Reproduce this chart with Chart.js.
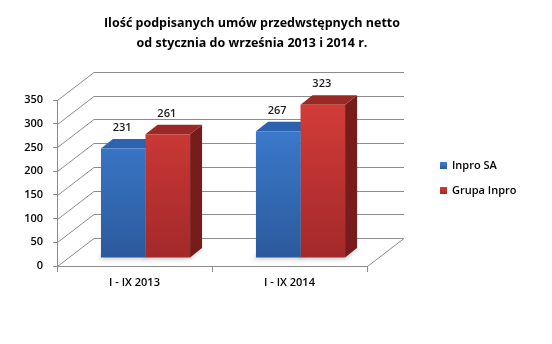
<!DOCTYPE html>
<html>
<head>
<meta charset="utf-8">
<script src="https://cdn.jsdelivr.net/npm/chart.js@4"></script>
<style>
  html, body { margin: 0; background: #fff; }
  canvas { display: block; }
</style>
</head>
<body>
<canvas id="chart" width="552" height="344"></canvas>
<script>
// data
const categories = ['I - IX 2013', 'I - IX 2014'];
const seriesNames = ['Inpro SA', 'Grupa Inpro'];
const inproSA = [231, 267];
const grupaInpro = [261, 323];
const yTicks = [0, 50, 100, 150, 200, 250, 300, 350];
const titleLines = ['Ilość podpisanych umów przedwstępnych netto', 'od stycznia do września 2013 i 2014 r.'];

// fake 3D settings
const DEPTH = { x: 37, y: -28 };      // side wall / floor depth
const BAR_SHIFT = { x: 11, y: -8 };   // bars stand a bit inside the box
const BAR_DEPTH = { x: 12, y: -9.5 };
const GRID = '#8c8c8c';
const FONT = '"Open Sans", "DejaVu Sans", sans-serif';

const colors = [
  { top: '#3f82d8', bottom: '#2b5a9c', lid: '#2d62ae', side: '#1f4680' },
  { top: '#d63d39', bottom: '#a3292a', lid: '#9a2825', side: '#761d1b' }
];

function line(ctx, x1, y1, x2, y2) {
  ctx.beginPath();
  ctx.moveTo(x1, y1);
  ctx.lineTo(x2, y2);
  ctx.stroke();
}

function poly(ctx, pts, fill) {
  ctx.beginPath();
  ctx.moveTo(pts[0][0], pts[0][1]);
  pts.slice(1).forEach(p => ctx.lineTo(p[0], p[1]));
  ctx.closePath();
  ctx.fillStyle = fill;
  ctx.fill();
}

function frontFill(i) {
  return (c) => {
    const area = c.chart.chartArea;
    if (!area) return colors[i].top;
    const g = c.chart.ctx.createLinearGradient(0, area.top, 0, area.bottom);
    g.addColorStop(0, colors[i].top);
    g.addColorStop(1, colors[i].bottom);
    return g;
  };
}

const box3d = {
  id: 'box3d',
  beforeDatasetsDraw(chart) {
    const { ctx, chartArea: a, scales: { y } } = chart;
    ctx.save();
    ctx.strokeStyle = GRID;
    ctx.lineWidth = 1;
    yTicks.forEach(v => {
      const py = Math.round(y.getPixelForValue(v)) + 0.5;
      line(ctx, a.left + 0.5, py, a.left + DEPTH.x, py + DEPTH.y);
      line(ctx, a.left + DEPTH.x, py + DEPTH.y, a.right + DEPTH.x, py + DEPTH.y);
    });
    line(ctx, a.right + 0.5, a.bottom + 0.5, a.right + DEPTH.x, a.bottom + 0.5 + DEPTH.y);
    ctx.restore();

    // bars: shadows, then side and top faces; fronts come from Chart.js on top
    ctx.save();
    ctx.translate(BAR_SHIFT.x, BAR_SHIFT.y);
    chart.data.datasets.forEach((ds, i) => {
      chart.getDatasetMeta(i).data.forEach(el => {
        const l = el.x - el.width / 2, r = el.x + el.width / 2;
        ctx.save();
        ctx.filter = 'blur(2px)';
        poly(ctx, [[l - 3, el.base + 2], [r, el.base + 2], [r + BAR_DEPTH.x, el.base + BAR_DEPTH.y], [l - 3 + BAR_DEPTH.x, el.base + BAR_DEPTH.y]], 'rgba(0,0,0,0.18)');
        ctx.restore();
      });
    });
    chart.data.datasets.forEach((ds, i) => {
      chart.getDatasetMeta(i).data.forEach(el => {
        const l = el.x - el.width / 2, r = el.x + el.width / 2;
        const t = el.y, b = el.base;
        const dx = BAR_DEPTH.x, dy = BAR_DEPTH.y;
        poly(ctx, [[r, t], [r + dx, t + dy], [r + dx, b + dy], [r, b]], colors[i].side);
        poly(ctx, [[l, t], [r, t], [r + dx, t + dy], [l + dx, t + dy]], colors[i].lid);
      });
    });
  },
  afterDatasetsDraw(chart) {
    const { ctx } = chart;
    ctx.restore();
    ctx.save();
    ctx.font = '600 11px ' + FONT;
    ctx.fillStyle = '#1a1a1a';
    ctx.textAlign = 'center';
    ctx.textBaseline = 'middle';
    chart.data.datasets.forEach((ds, i) => {
      chart.getDatasetMeta(i).data.forEach((el, j) => {
        ctx.fillText(ds.data[j], el.x + BAR_SHIFT.x - 1, el.y + BAR_SHIFT.y + BAR_DEPTH.y - 11);
      });
    });
    ctx.restore();
  },
  afterDraw(chart) {
    const { ctx } = chart;
    ctx.save();
    // title
    ctx.font = 'bold 12.5px ' + FONT;
    ctx.fillStyle = '#000';
    ctx.textAlign = 'center';
    ctx.textBaseline = 'middle';
    titleLines.forEach((t, k) => ctx.fillText(t, 252, 23 + k * 20));
    // legend
    ctx.font = '600 11px ' + FONT;
    ctx.textAlign = 'left';
    chart.data.datasets.forEach((ds, i) => {
      const cy = 165.5 + i * 25;
      const g = ctx.createLinearGradient(0, cy - 3.5, 0, cy + 3.5);
      g.addColorStop(0, colors[i].top);
      g.addColorStop(1, colors[i].bottom);
      ctx.fillStyle = g;
      ctx.fillRect(440, cy - 3.5, 7, 7);
      ctx.fillStyle = '#000';
      ctx.fillText(ds.label, 452, cy + 0.5);
    });
    ctx.restore();
  }
};

new Chart(document.getElementById('chart'), {
  type: 'bar',
  data: {
    labels: categories,
    datasets: [
      { label: seriesNames[0], data: inproSA, backgroundColor: frontFill(0) },
      { label: seriesNames[1], data: grupaInpro, backgroundColor: frontFill(1) }
    ]
  },
  options: {
    responsive: false,
    animation: false,
    layout: { padding: { top: 100, right: 185, left: 0, bottom: 0 } },
    datasets: { bar: { categoryPercentage: 0.575, barPercentage: 1, borderWidth: 0, clip: false } },
    plugins: {
      legend: { display: false },
      title: { display: false },
      tooltip: { enabled: false }
    },
    scales: {
      x: {
        grid: { display: true, drawOnChartArea: false, offset: true, tickLength: 6, color: GRID },
        border: { color: GRID },
        ticks: { color: '#000', font: { family: FONT, size: 11, weight: '600' }, padding: 4 },
        afterFit: s => { s.height = 78; }
      },
      y: {
        min: 0,
        max: 350,
        afterBuildTicks: s => { s.ticks = yTicks.map(v => ({ value: v })); },
        grid: { display: true, drawOnChartArea: false, tickLength: 4, color: GRID },
        border: { color: GRID },
        ticks: { color: '#000', font: { family: FONT, size: 11, weight: '600' }, padding: 10 },
        afterFit: s => { s.width = 57; }
      }
    }
  },
  plugins: [box3d]
});
</script>
</body>
</html>
